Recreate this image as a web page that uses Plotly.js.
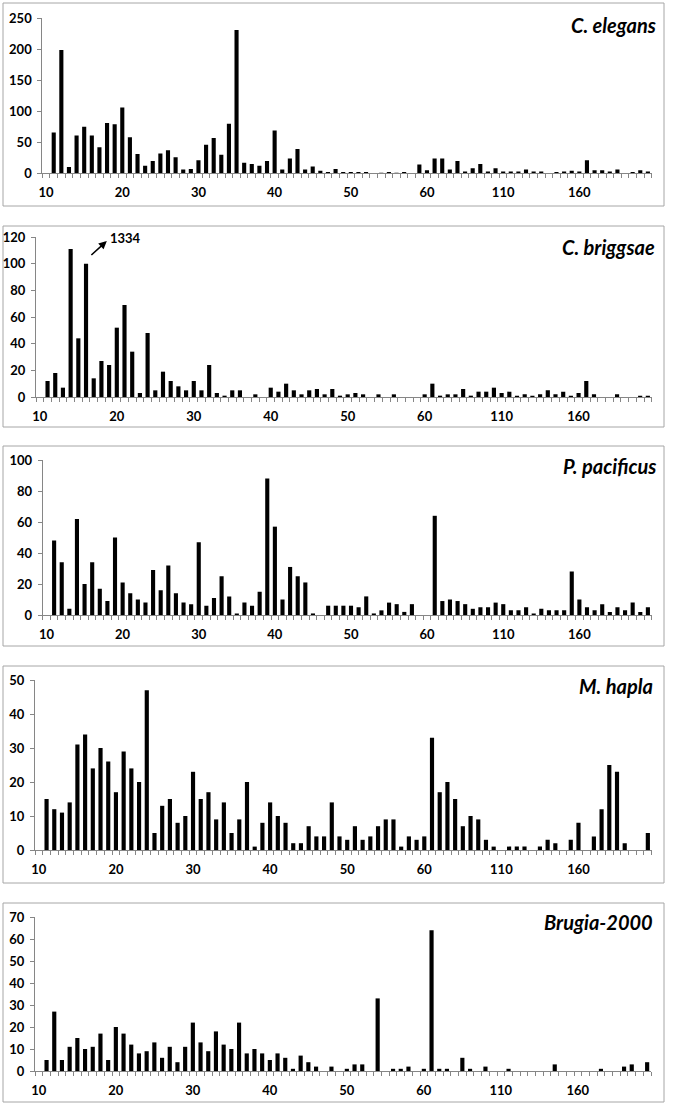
<!DOCTYPE html>
<html><head><meta charset="utf-8">
<script src="https://cdn.plot.ly/plotly-3.0.1.min.js"></script>
<style>html,body{margin:0;padding:0;background:#fff;} #chart{width:674px;height:1106px;}</style>
</head><body><div id="chart"></div>
<script>
// Categories (unit length): 10..60 step 1, then 65..205 step 5
const categories = [10,11,12,13,14,15,16,17,18,19,20,21,22,23,24,25,26,27,28,29,30,31,32,33,34,35,36,37,38,39,40,
  41,42,43,44,45,46,47,48,49,50,51,52,53,54,55,56,57,58,59,60,
  65,70,75,80,85,90,95,100,105,110,115,120,125,130,135,140,145,150,155,160,165,170,175,180,185,190,195,200,205];
const tickLabels = ['10','20','30','40','50','60','110','160'];

const elegans = [0,
  66,199,10,61,75,61,42,81,79,106,58,31,12,20,32,37,26,6,7,21,46,57,30,80,231,17,15,12,20,69,6,24,39,6,11,4,2,7,
  2,2,2,2,0,1,2,1,2,0,14,5,
  24,24,6,20,3,8,15,3,8,3,3,3,6,3,3,0,2,3,4,3,21,5,5,3,6,0,2,5,3];
const briggsae = [0,
  12,18,7,111,44,100,14,27,24,52,69,34,3,48,5,19,12,8,5,12,5,24,3,1,5,5,0,2,0,7,4,10,5,2,5,6,2,6,
  1,2,3,2,0,2,0,2,0,0,0,2,
  10,1,2,2,6,1,4,4,7,3,4,1,2,1,2,5,2,4,1,3,12,2,0,0,2,0,0,1,1];
const pacificus = [0,
  48,34,4,62,20,34,17,9,50,21,14,10,8,29,16,32,14,8,7,47,6,11,25,12,1,8,6,15,88,57,10,31,25,21,1,0,6,6,
  6,6,5,12,1,3,8,7,2,7,0,0,
  64,9,10,9,7,4,5,5,8,7,3,3,5,1,4,3,3,3,28,10,5,3,7,2,5,3,8,2,5];
const hapla = [0,
  15,12,11,14,31,34,24,30,26,17,29,24,20,47,5,13,15,8,10,23,15,17,9,14,5,9,20,1,8,14,10,8,2,2,7,4,4,14,
  4,3,7,3,4,7,9,9,1,4,3,4,
  33,17,20,15,7,10,9,3,1,0,1,1,1,0,1,3,2,0,3,8,0,4,12,25,23,2,0,0,5];
const brugia = [0,
  5,27,5,11,15,10,11,17,5,20,17,12,8,9,13,6,11,4,11,22,13,9,18,12,10,22,8,10,8,5,8,6,1,7,4,2,0,2,
  0,1,3,3,0,33,0,1,1,2,0,1,
  64,1,1,0,6,1,0,2,0,0,1,0,0,0,0,0,3,0,0,0,0,0,1,0,0,2,3,0,4];

const species = ['C. elegans','C. briggsae','P. pacificus','M. hapla','Brugia-2000'];
const seriesList = [elegans, briggsae, pacificus, hapla, brugia];
const yMax = [250, 120, 100, 50, 70];
const yStep = [50, 20, 20, 10, 10];
const offscaleNote = {panel: 1, category: 16, text: '1334'};

// layout geometry (pixels)
const W = 674, H = 1106;
const plotBoxes = [ // [left, right, top, bottom] of plot area
  [42.3, 651.7, 18.3, 173.3],
  [36, 651.7, 237, 397],
  [42.7, 651.7, 460, 615],
  [35, 651.7, 680, 850],
  [35, 651, 917, 1071]
];
const frames = [[3, 664, 3, 206],[3, 664, 226, 427],[3, 664, 446, 646],[3, 664, 666, 883],[3, 664, 903, 1102]];
const titleY = [25, 247, 466, 686, 922];
const titleRight = [658, 657, 658, 655, 655];

const xIdx = categories.map((c, i) => i);
const tickPos = tickLabels.map(t => categories.indexOf(Number(t)));

const tickFont = {family: 'Lato, "Open Sans", sans-serif', size: 13, color: '#000', weight: 700};
const traces = [], layout = {
  width: W, height: H, margin: {l:0, r:0, t:0, b:0}, showlegend: false,
  paper_bgcolor: '#fff', plot_bgcolor: '#fff', bargap: 0.46,
  shapes: [], annotations: [], font: {family: 'Lato, sans-serif'}
};

seriesList.forEach((vals, k) => {
  const n = k === 0 ? '' : String(k + 1);
  traces.push({type: 'bar', x: xIdx, y: vals, xaxis: 'x' + n, yaxis: 'y' + n,
    marker: {color: '#000', line: {width: 0}}, hoverinfo: 'x+y'});
  const b = plotBoxes[k];
  layout['xaxis' + n] = {
    domain: [b[0] / W, b[1] / W], anchor: 'y' + n, range: [-0.5, categories.length - 0.5],
    tickmode: 'array', tickvals: tickPos, ticktext: tickLabels, ticks: '', ticklen: 0,
    showline: true, linecolor: '#868686', linewidth: 1, showgrid: false, zeroline: false,
    tickfont: tickFont, ticklabelstandoff: 7, fixedrange: true,
    minor: {tickmode: 'linear', tick0: -0.5, dtick: 1, ticks: 'outside', ticklen: 4, tickcolor: '#868686', tickwidth: 1, showgrid: false}
  };
  layout['yaxis' + n] = {
    domain: [1 - b[3] / H, 1 - b[2] / H], anchor: 'x' + n, range: [0, yMax[k]],
    dtick: yStep[k], tick0: 0, ticks: 'outside', ticklen: 4, tickcolor: '#868686',
    showline: true, linecolor: '#868686', linewidth: 1, showgrid: false, zeroline: false,
    tickfont: tickFont, ticklabelstandoff: 3, fixedrange: true
  };
  const f = frames[k];
  layout.shapes.push({type: 'rect', xref: 'paper', yref: 'paper',
    x0: f[0] / W, x1: f[1] / W, y0: 1 - f[3] / H, y1: 1 - f[2] / H,
    line: {color: '#a6a6a6', width: 1}, fillcolor: 'rgba(0,0,0,0)', layer: 'below'});
  layout.annotations.push({xref: 'paper', yref: 'paper', x: titleRight[k] / W, y: 1 - titleY[k] / H,
    xanchor: 'right', yanchor: 'middle', showarrow: false, text: '<b><i>' + species[k] + '</i></b>',
    font: {family: 'Lato, "Open Sans", sans-serif', size: 20, color: '#000'}});
});

// off-scale note for C. briggsae
{
  const k = offscaleNote.panel, n = String(k + 1);
  const xi = categories.indexOf(offscaleNote.category);
  const yv = seriesList[k][xi];
  layout.annotations.push({xref: 'x' + n, yref: 'y' + n, axref: 'x' + n, ayref: 'y' + n,
    x: xi + 2.7, y: yv + 17, ax: xi + 0.5, ay: yv + 5.5, text: '', showarrow: true,
    arrowhead: 2, arrowsize: 1, arrowwidth: 1.6, arrowcolor: '#000'});
  layout.annotations.push({xref: 'x' + n, yref: 'y' + n, x: xi + 2.8, y: yv + 19,
    xanchor: 'left', yanchor: 'middle', showarrow: false, text: '<b>' + offscaleNote.text + '</b>',
    font: {family: 'Lato, "Open Sans", sans-serif', size: 13, color: '#000'}});
}

Plotly.newPlot('chart', traces, layout, {displayModeBar: false, staticPlot: true});
</script></body></html>
